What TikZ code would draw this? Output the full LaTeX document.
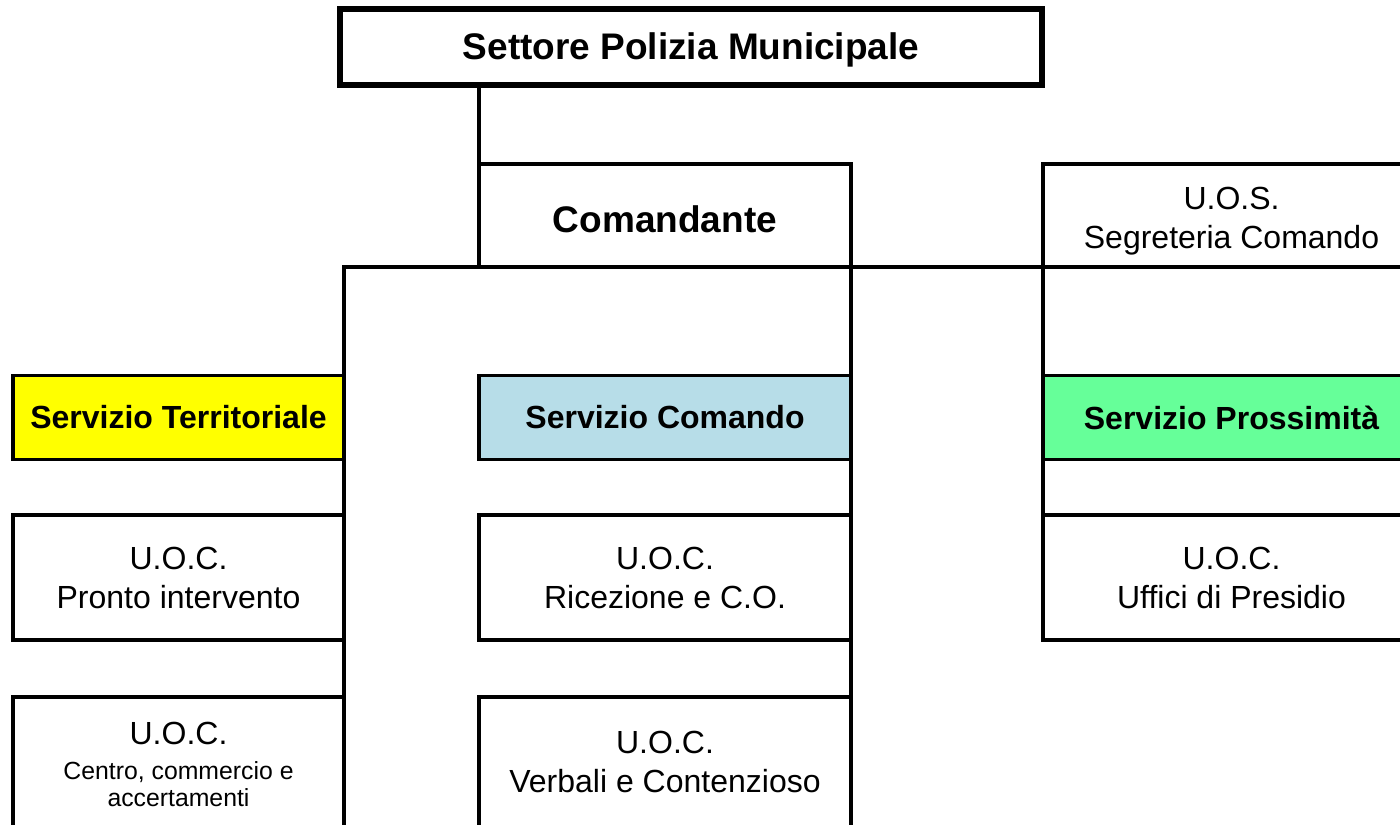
\documentclass[tikz,border=0pt]{standalone}
\usepackage{fontspec}
\setmainfont{Liberation Sans}
\definecolor{terrcol}{HTML}{FFFF00}
\definecolor{comcol}{HTML}{B7DDE8}
\definecolor{proscol}{HTML}{66FF99}
\newcommand{\titlef}{\bfseries\fontsize{18.5}{22}\selectfont}
\newcommand{\servf}{\bfseries\fontsize{16}{19}\selectfont}
\newcommand{\regf}{\fontsize{16}{19.5}\selectfont}
\newcommand{\smallf}{\fontsize{12.4}{13.5}\selectfont}
\newcommand{\lowstrut}{\rule[-7pt]{0pt}{7pt}}
\tikzset{
  box/.style={draw, line width=1.6pt, rectangle, inner sep=0pt, outer sep=0pt, align=center, font=\regf},
  topbox/.style={box, line width=2.7pt, font=\titlef},
  servbox/.style={box, font=\servf},
  link/.style={line width=1.6pt, line cap=rect}
}
\begin{document}
\begin{tikzpicture}[x=0.5pt,y=-0.5pt]
\useasboundingbox (0,0) rectangle (1400,824);
\fill[white] (0,0) rectangle (1400,824);
\begin{scope}
\clip (0,0) rectangle (1400,824);
% top
\node[topbox, minimum width=351pt, minimum height=38pt, text height=16.5pt, text depth=3.9pt] (top) at (691,47) {Settore Polizia Municipale};
% second row
\node[box, font=\titlef, minimum width=186pt, minimum height=51.5pt, text height=16.5pt, text depth=0pt] (com) at (665,215.5) {Comandante};
\node[box, minimum width=188.5pt, minimum height=51.5pt] (segr) at (1231.5,215.5) {\rule{0pt}{16.5pt}U.O.S.\\Segreteria Comando};
% servizi
\node[servbox, fill=terrcol, minimum width=165.5pt, minimum height=42pt] (terr) at (178.5,417.5) {Servizio Territoriale};
\node[servbox, fill=comcol, minimum width=186pt, minimum height=42pt] (scom) at (665,417.5) {Servizio Comando};
\node[servbox, fill=proscol, minimum width=188.5pt, minimum height=42pt] (pros) at (1231.5,417.5) {Servizio Prossimità};
% U.O.C. row 1
\node[box, minimum width=165.5pt, minimum height=62.5pt] (pronto) at (178.5,577.5) {U.O.C.\\Pronto intervento};
\node[box, minimum width=186pt, minimum height=62.5pt] (ricez) at (665,577.5) {U.O.C.\\Ricezione e C.O.};
\node[box, minimum width=188.5pt, minimum height=62.5pt] (uff) at (1231.5,577.5) {U.O.C.\\Uffici di Presidio};
% U.O.C. row 2 (cut off by the lower edge)
\node[box, minimum width=165.5pt, minimum height=71.5pt] (centro) at (178.5,768.5) {\rule{0pt}{13.5pt}U.O.C.\\[-2pt]\smallf Centro, commercio e\\[-6pt]\smallf accertamenti\lowstrut};
\node[box, minimum width=186pt, minimum height=71.5pt] (verb) at (665,768.5) {U.O.C.\\Verbali e Contenzioso\lowstrut};
% connectors
\coordinate (hubL) at (terr.north east |- com.south);
\draw[link] (com.north west |- top.south) -- (com.north west);
\draw[link] (hubL) -- (segr.south east);
\draw[link] (hubL) -- (centro.south east);
\draw[link] (com.south east) -- (verb.north east);
\draw[link] (segr.south west) -- (uff.south west);
\end{scope}
\end{tikzpicture}
\end{document}
